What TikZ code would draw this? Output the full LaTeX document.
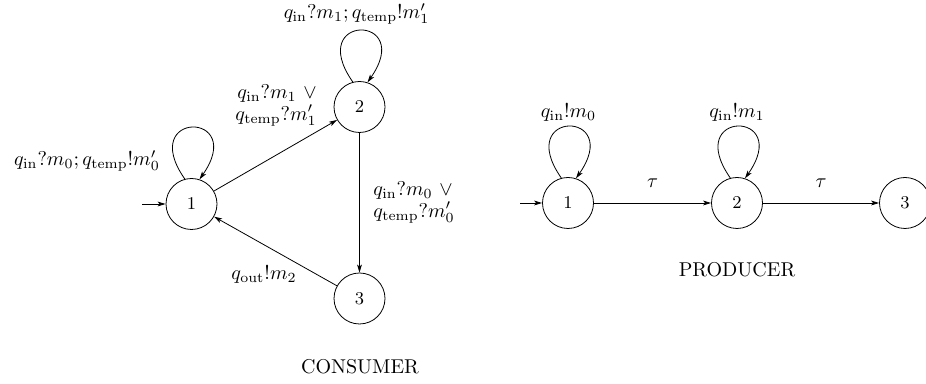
\documentclass[tikz,border=0pt]{standalone}
\usepackage{tikz}
\usetikzlibrary{arrows.meta,positioning}
\usepackage{amsmath,amssymb}

\tikzset{
  state/.style={draw,circle,minimum size=25.5pt,inner sep=0pt,font=\small},
  trans/.style={-{Stealth[length=4pt,width=2.4pt,inset=1pt]}},
  selfloop/.style={trans,out=125,in=55,distance=42pt},
  lbl/.style={inner sep=0pt}
}

\begin{document}
\begin{tikzpicture}[x=0.5pt,y=0.5pt]
\useasboundingbox (0,0) rectangle (926,384);
%
% consumer
\node[state] (c1) at (191.5,180) {1};
\node[state] (c2) at (359.5,277) {2};
\node[state] (c3) at (359.5,85.5) {3};
\coordinate (c0) at (142,180);
\draw[trans] (c0) -- (c1);
\draw[trans] (c1) -- (c2);
\draw[trans] (c2) -- (c3);
\draw[trans] (c3) -- (c1);
\draw[selfloop] (c1.105) to (c1.72);
\draw[selfloop] (c2.105) to (c2.72);
\node[lbl] (l11) at (87,223) {$q_{\mathrm{in}}?m_0;q_{\mathrm{temp}}!m'_0$};
\node[lbl] (l22) at (356.5,370) {$q_{\mathrm{in}}?m_1;q_{\mathrm{temp}}!m'_1$};
\node[lbl,anchor=east,align=right] (l12) at (317,279) {$q_{\mathrm{in}}?m_1\ \vee$\\[-1pt]$q_{\mathrm{temp}}?m'_1$};
\node[lbl,anchor=west,align=left] (l23) at (373,182) {$q_{\mathrm{in}}?m_0\ \vee$\\[-1pt]$q_{\mathrm{temp}}?m'_0$};
\node[lbl] (l31) at (264,109) {$q_{\mathrm{out}}!m_2$};
\node (consumer) at (360,17) {CONSUMER};
%
% producer
\node[state] (p1) at (568,181) {1};
\node[state] (p2) at (737,181) {2};
\node[state] (p3) at (905,181) {3};
\coordinate (p0) at (520,181);
\draw[trans] (p0) -- (p1);
\draw[trans] (p1) -- node[above=4pt] (t12) {$\tau$} (p2);
\draw[trans] (p2) -- node[above=4pt] (t23) {$\tau$} (p3);
\draw[selfloop] (p1.105) to (p1.72);
\draw[selfloop] (p2.105) to (p2.72);
\node[lbl] (l1) at (568.5,271) {$q_{\mathrm{in}}!m_0$};
\node[lbl] (l2) at (737,271) {$q_{\mathrm{in}}!m_1$};
\node (producer) at (737,114) {PRODUCER};
%
\end{tikzpicture}
\end{document}
